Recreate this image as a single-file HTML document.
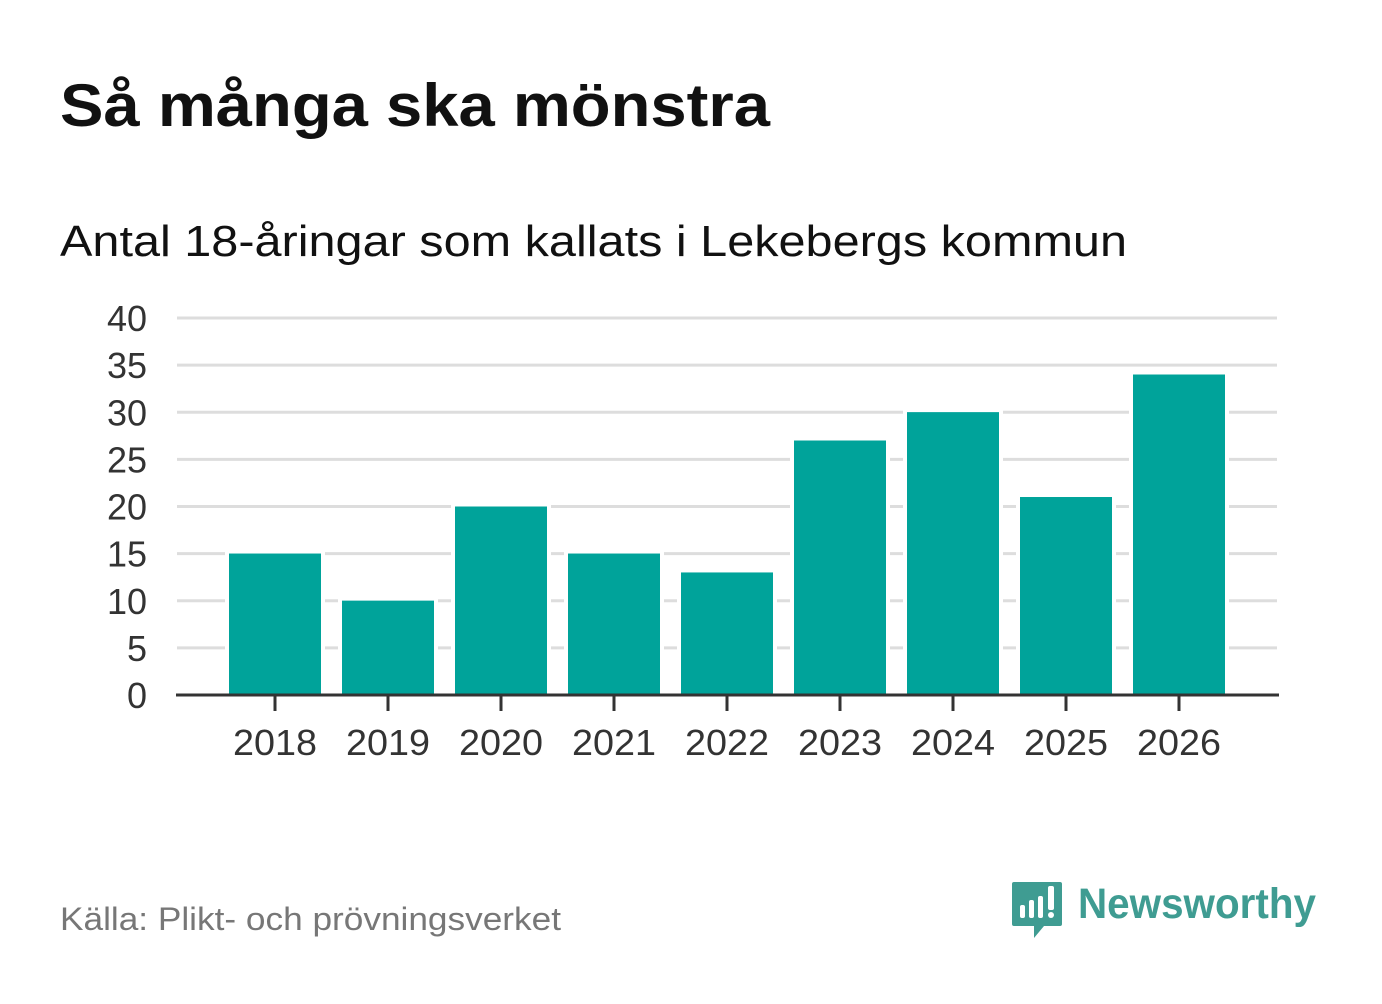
<!DOCTYPE html>
<html><head><meta charset="utf-8"><style>
body{margin:0;background:#fff;width:1382px;height:999px;overflow:hidden;font-family:"Liberation Sans",sans-serif}
</style></head><body>
<svg width="1382" height="999" xmlns="http://www.w3.org/2000/svg">
<text x="60" y="126" font-size="60" font-weight="bold" fill="#111" textLength="710" lengthAdjust="spacingAndGlyphs" font-family="Liberation Sans, sans-serif">Så många ska mönstra</text>
<text x="60" y="256" font-size="44" fill="#111" textLength="1067" lengthAdjust="spacingAndGlyphs" font-family="Liberation Sans, sans-serif">Antal 18-åringar som kallats i Lekebergs kommun</text>
<g id="grid"></g><g id="bars"></g><g id="axes"></g>
<text x="60" y="930" font-size="32" fill="#777" textLength="501" lengthAdjust="spacingAndGlyphs" font-family="Liberation Sans, sans-serif">Källa: Plikt- och prövningsverket</text>
<g>
<path d="M1014 882 h46 q2 0 2 2 v40 q0 2 -2 2 h-16 l-10 12 v-12 h-20 q-2 0 -2 -2 v-40 q0 -2 2 -2z" fill="#3f9c92"/>
<rect x="1020" y="905" width="5" height="13" rx="2" fill="#fff"/><rect x="1029" y="900" width="5" height="18" rx="2" fill="#fff"/><rect x="1038" y="896" width="5" height="22" rx="2" fill="#fff"/><rect x="1048" y="886" width="6" height="24" rx="2" fill="#fff"/><circle cx="1051" cy="915" r="3" fill="#fff"/>
<text x="1078" y="918" font-size="43" font-weight="bold" fill="#3f9c92" textLength="238" lengthAdjust="spacingAndGlyphs" font-family="Liberation Sans, sans-serif">Newsworthy</text>
</g>
</svg>
<script>
const categories=["2018","2019","2020","2021","2022","2023","2024","2025","2026"];
const values=[15,10,20,15,13,27,30,21,34];
const yTicks=[0,5,10,15,20,25,30,35,40];
const NS="http://www.w3.org/2000/svg";
const y0=695,yTop=318,yMax=40,step=113,bw=92;
const y=v=>y0-(v/yMax)*(y0-yTop);
function mk(t,a,p){const e=document.createElementNS(NS,t);for(const k in a)e.setAttribute(k,a[k]);p.appendChild(e);return e;}
const g=document.getElementById('grid'),b=document.getElementById('bars'),ax=document.getElementById('axes');
yTicks.forEach(v=>{
 const l=mk('line',{x1:177,x2:1277,y1:y(v),y2:y(v),stroke:'#ddd','stroke-width':3},g);
 
 
 const t=mk('text',{x:147,y:y(v)+13,'text-anchor':'end','font-size':36,fill:'#333','font-family':'Liberation Sans, sans-serif'},ax);
 t.textContent=v;
 
 
});
values.forEach((v,i)=>{
 const c=275+step*i;
 const r=mk('rect',{x:c-bw/2,y:y(v),width:bw,height:y0-y(v),fill:'#00a39a',stroke:'#fff','stroke-width':8,'paint-order':'stroke'},b);
 
 
 const r2=mk('rect',{x:c-bw/2,y:y(v),width:bw,height:y0-y(v),fill:'#00a39a'},b);
 
 
 const tk=mk('line',{x1:c,x2:c,y1:y0,y2:711,stroke:'#333','stroke-width':3},ax);
 
 
 const t=mk('text',{x:c,y:755,'text-anchor':'middle','font-size':36,fill:'#333',textLength:84,lengthAdjust:'spacingAndGlyphs','font-family':'Liberation Sans, sans-serif'},ax);
 t.textContent=categories[i];
 
 
});
const a=mk('line',{x1:176,x2:1279,y1:y0,y2:y0,stroke:'#333','stroke-width':3},ax);


</script>
</body></html>
